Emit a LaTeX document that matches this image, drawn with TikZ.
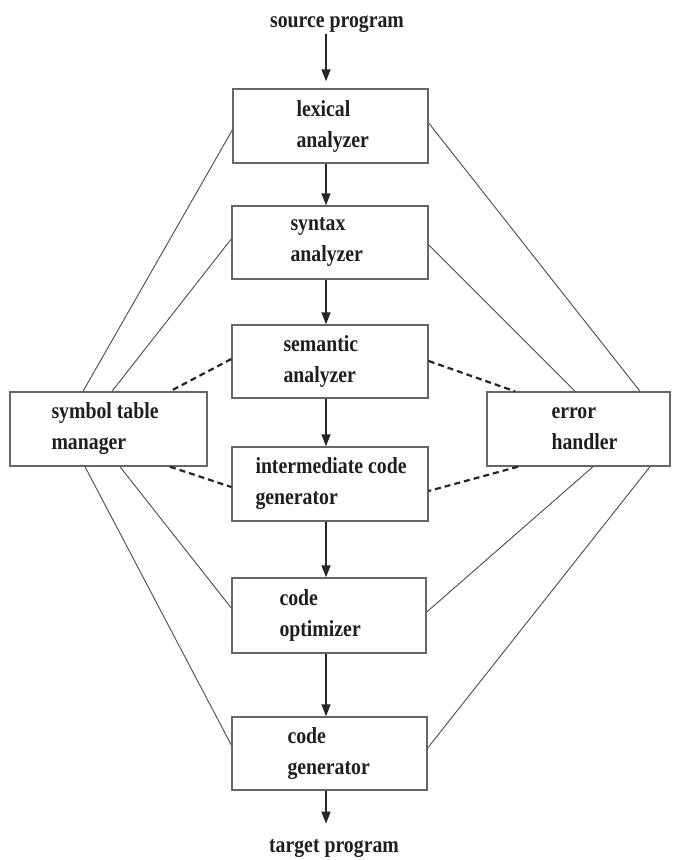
\documentclass[tikz,border=0pt]{standalone}
\usepackage{fontspec}
\setmainfont[FakeStretch=0.86]{Liberation Serif}
\usetikzlibrary{arrows.meta,calc}

\begin{document}
\begin{tikzpicture}[x=1pt,y=-1pt,
  box/.style={draw=black!60, line width=1.4pt, inner sep=0pt},
  lbl/.style={anchor=west, align=left, inner sep=0pt,
    font=\fontsize{23}{31}\selectfont\bfseries, text=black!88},
  ptxt/.style={inner sep=1pt, font=\fontsize{23}{28}\selectfont\bfseries, text=black!88},
  link/.style={draw=black!70, line width=0.9pt},
  dlink/.style={draw=black!85, line width=2.2pt, dash pattern=on 6pt off 4pt},
  flow/.style={draw=black!85, line width=1.4pt, -{Triangle[length=12pt,width=9pt]}}]

\useasboundingbox[fill=white] (0,0) rectangle (676,860);

% phase boxes
\node[box, minimum width=195pt, minimum height=74pt] (lex) at (330.5,126) {};
\node[box, minimum width=196pt, minimum height=73pt] (syn) at (330,242.5) {};
\node[box, minimum width=196pt, minimum height=73pt] (sem) at (330,361.5) {};
\node[box, minimum width=196pt, minimum height=74pt] (int) at (330,484) {};
\node[box, minimum width=194pt, minimum height=75pt] (opt) at (329,615.5) {};
\node[box, minimum width=195pt, minimum height=73pt] (gen) at (329.5,753.5) {};
% side boxes
\node[box, minimum width=197pt, minimum height=74pt] (sym) at (108.5,429) {};
\node[box, minimum width=183pt, minimum height=74pt] (err) at (578.5,429) {};

% box labels
\node[lbl] (lext) at ([xshift=64pt]lex.west) {lexical\\analyzer};
\node[lbl] (synt) at ([xshift=59pt]syn.west) {syntax\\analyzer};
\node[lbl] (semt) at ([xshift=52pt]sem.west) {semantic\\analyzer};
\node[lbl] (intt) at ([xshift=24pt]int.west) {intermediate code\\generator};
\node[lbl] (optt) at ([xshift=48pt]opt.west) {code\\optimizer};
\node[lbl] (gent) at ([xshift=56pt]gen.west) {code\\generator};
\node[lbl] (symt) at ([xshift=42pt]sym.west) {symbol table\\manager};
\node[lbl] (errt) at ([xshift=65pt]err.west) {error\\handler};

% input and output
\node[ptxt] (src) at (337,24) {source program};
\node[ptxt] (tgt) at (334,849) {target program};

% main flow
\coordinate (ax) at (326,0);
\draw[flow] (src.south -| ax) -- ($(lex.north -| ax)+(0,-7)$);
\draw[flow] (lex.south -| ax) -- (syn.north -| ax);
\draw[flow] (syn.south -| ax) -- (sem.north -| ax);
\draw[flow] (sem.south -| ax) -- (int.north -| ax);
\draw[flow] (int.south -| ax) -- (opt.north -| ax);
\draw[flow] (opt.south -| ax) -- (gen.north -| ax);
\draw[flow] (gen.south -| ax) -- ($(gen.south -| ax)+(0,33)$);

% links to the symbol table manager
\draw[link] (lex.west |- 0,130) -- (sym.north -| 83,0);
\draw[link] (syn.west |- 0,239) -- (sym.north -| 112,0);
\draw[dlink] (sem.west |- 0,359) -- (sym.north -| 170,0);
\draw[dlink] (sym.south -| 170,0) -- (int.west |- 0,487);
\draw[link] (sym.south -| 120,0) -- (opt.west |- 0,608);
\draw[link] (sym.south -| 85,0) -- (gen.west |- 0,745);

% links to the error handler
\draw[link] (lex.east |- 0,123) -- (err.north -| 640,0);
\draw[link] (syn.east |- 0,245) -- (err.north -| 575,0);
\draw[dlink] (sem.east |- 0,361) -- (err.north -| 515,0);
\draw[dlink] (err.south -| 518,0) -- (int.east |- 0,491);
\draw[link] (err.south -| 593,0) -- (opt.east |- 0,612);
\draw[link] (err.south -| 650,0) -- (gen.east |- 0,748);
\end{tikzpicture}
\end{document}
